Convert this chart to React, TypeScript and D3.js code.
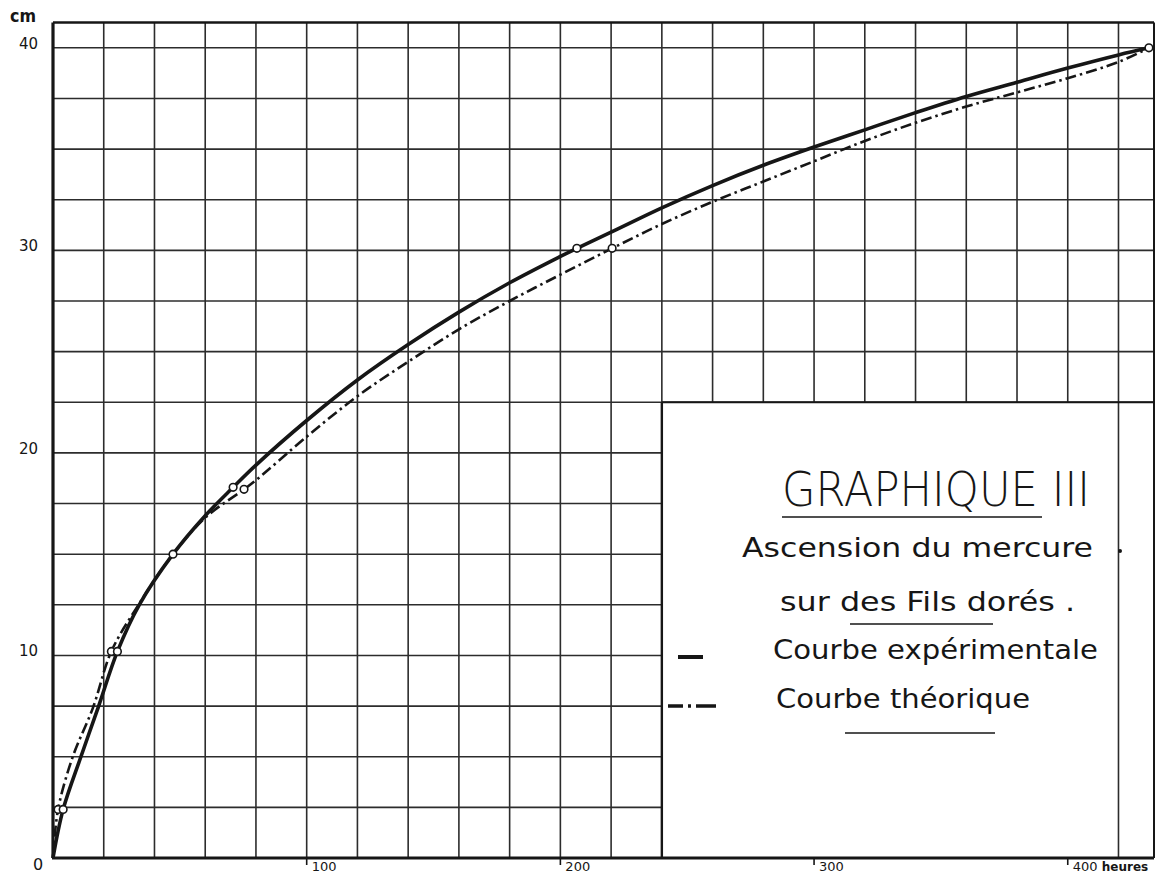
import React from 'react';
import * as d3 from 'd3';

// Courbe expérimentale (heures, cm)
const expHours = [0, 4, 11, 18, 25.4, 34, 47.3, 60, 71, 80, 100, 120, 140, 160, 180, 200, 206.5, 220, 240, 260, 280, 300, 320, 340, 360, 380, 400, 420, 432];
const expCm = [0, 2.4, 5.0, 7.5, 10.2, 12.5, 15.0, 16.9, 18.3, 19.4, 21.6, 23.6, 25.35, 26.95, 28.4, 29.7, 30.1, 30.9, 32.1, 33.2, 34.2, 35.1, 35.95, 36.8, 37.6, 38.3, 39.0, 39.65, 40.0];
// Courbe théorique
const theoHours = [0, 2, 7.8, 15.7, 23, 33.2, 47.3, 60, 75.3, 80, 100, 120, 140, 160, 180, 200, 220.4, 240, 260, 280, 300, 320, 340, 360, 380, 400, 420, 432];
const theoCm = [0, 2.4, 5.0, 7.4, 10.2, 12.4, 15.0, 16.8, 18.2, 18.65, 20.8, 22.8, 24.5, 26.1, 27.5, 28.8, 30.1, 31.3, 32.4, 33.4, 34.4, 35.4, 36.3, 37.1, 37.8, 38.5, 39.3, 40.0];
// measured points drawn as small circles
const expObsHours = [4, 25.4, 47.3, 71, 206.5, 432];
const expObsCm = [2.4, 10.2, 15.0, 18.3, 30.1, 40.0];
const theoObsHours = [2, 23, 75.3, 220.4];
const theoObsCm = [2.4, 10.2, 18.2, 30.1];

const xTicks = [100, 200, 300, 400];
const yTicks = [10, 20, 30, 40];

const W = 1164;
const H = 875;
const INK = '#161616';

export default function App() {
  const x = d3.scaleLinear().domain([0, 434]).range([53, 1154]);
  const y = d3.scaleLinear().domain([0, 41.25]).range([858, 22.5]);

  const boxX = 240;
  const boxY = 22.5;

  const line = d3.line<[number, number]>()
    .x(d => x(d[0]))
    .y(d => y(d[1]))
    .curve(d3.curveCatmullRom.alpha(0.5));

  const expPts = expHours.map((h, i) => [h, expCm[i]] as [number, number]);
  const theoPts = theoHours.map((h, i) => [h, theoCm[i]] as [number, number]);

  const vGrid = d3.range(20, 421, 20);
  const hGrid = d3.range(2.5, 40.1, 2.5);

  const hand = '"DejaVu Sans", "Open Sans", sans-serif';

  return (
    <svg width={W} height={H} style={{ position: 'absolute', left: 0, top: 0, background: '#fff' }}>
      <rect width={W} height={H} fill="#fff" />
      {/* grid */}
      <g stroke={INK} strokeWidth={1.6} opacity={0.9}>
        {vGrid.map(v => (
          <line key={'v' + v} x1={x(v)} x2={x(v)} y1={y(41.25)}
            y2={v >= boxX && v < 420 ? y(boxY) : y(0)} />
        ))}
        {hGrid.map(v => (
          <line key={'h' + v} x1={x(0)} y1={y(v)} y2={y(v)}
            x2={v < boxY ? x(boxX) : x(434)} />
        ))}
      </g>
      {/* frame */}
      <g stroke={INK} fill="none">
        <line x1={x(0)} x2={x(0)} y1={y(41.25)} y2={y(0)} strokeWidth={3.2} />
        <line x1={x(0) - 1} x2={x(434)} y1={y(0)} y2={y(0)} strokeWidth={3} />
        <line x1={x(0)} x2={x(434)} y1={y(41.25)} y2={y(41.25)} strokeWidth={2.6} />
        <line x1={x(434)} x2={x(434)} y1={y(41.25)} y2={y(0)} strokeWidth={2} />
        <line x1={x(boxX)} x2={x(boxX)} y1={y(boxY)} y2={y(0)} strokeWidth={2.4} />
        <line x1={x(boxX)} x2={x(434)} y1={y(boxY)} y2={y(boxY)} strokeWidth={2} />
      </g>
      {/* y labels */}
      <g fontFamily={hand} fontSize={15} fill={INK}>
        {yTicks.map(v => (
          <text key={v} x={38} y={y(v) + 1} textAnchor="end">{v}</text>
        ))}
        <text x={38} y={y(0) + 12} textAnchor="middle" fontSize={16}>0</text>
        <text x={10} y={22} fontSize={17} fontWeight="bold" textLength={26} lengthAdjust="spacingAndGlyphs">cm</text>
      </g>
      {/* x labels */}
      <g fontFamily={hand} fontSize={13} fill={INK}>
        {xTicks.map(v => (
          <g key={v}>
            <line x1={x(v)} x2={x(v)} y1={y(0)} y2={y(0) + 7} stroke={INK} strokeWidth={1.6} />
            <text x={x(v) + 5} y={y(0) + 13}>{v}</text>
          </g>
        ))}
        <text x={x(400) + 34} y={y(0) + 13} fontWeight="bold" fontSize={12}>heures</text>
      </g>
      {/* curves */}
      <path d={line(theoPts) || ''} fill="none" stroke={INK} strokeWidth={2.6}
        strokeDasharray="11 4 2.5 4" strokeLinecap="butt" />
      <path d={line(expPts) || ''} fill="none" stroke={INK} strokeWidth={3.6} />
      {theoObsHours.map((h, i) => (
        <circle key={'t' + i} cx={x(h)} cy={y(theoObsCm[i])} r={3.8} fill="#fff" stroke={INK} strokeWidth={1.6} />
      ))}
      {expObsHours.map((h, i) => (
        <circle key={'e' + i} cx={x(h)} cy={y(expObsCm[i])} r={3.8} fill="#fff" stroke={INK} strokeWidth={1.6} />
      ))}
      {/* legend box content */}
      <g fontFamily={hand} fill={INK}>
        <text x={782} y={506} fontSize={48} fontWeight={300} textLength={308} lengthAdjust="spacingAndGlyphs">GRAPHIQUE III</text>
        <line x1={782} x2={1042} y1={517} y2={517} stroke={INK} strokeWidth={1.6} />
        <text x={742} y={557} fontSize={27} textLength={351} lengthAdjust="spacingAndGlyphs">Ascension du mercure</text>
        <circle cx={1120} cy={551} r={2} fill={INK} />
        <text x={780} y={611} fontSize={27} textLength={295} lengthAdjust="spacingAndGlyphs">sur des Fils dorés .</text>
        <line x1={850} x2={993} y1={624} y2={624} stroke={INK} strokeWidth={1.6} />
        <line x1={678} x2={703} y1={657} y2={657} stroke={INK} strokeWidth={4} />
        <text x={773} y={659} fontSize={27} textLength={325} lengthAdjust="spacingAndGlyphs">Courbe expérimentale</text>
        <line x1={668} x2={716} y1={706} y2={706} stroke={INK} strokeWidth={3.5} strokeDasharray="15 5 3 5 20" />
        <text x={776} y={708} fontSize={27} textLength={254} lengthAdjust="spacingAndGlyphs">Courbe théorique</text>
        <line x1={845} x2={995} y1={733} y2={733} stroke={INK} strokeWidth={1.6} />
      </g>
    </svg>
  );
}
